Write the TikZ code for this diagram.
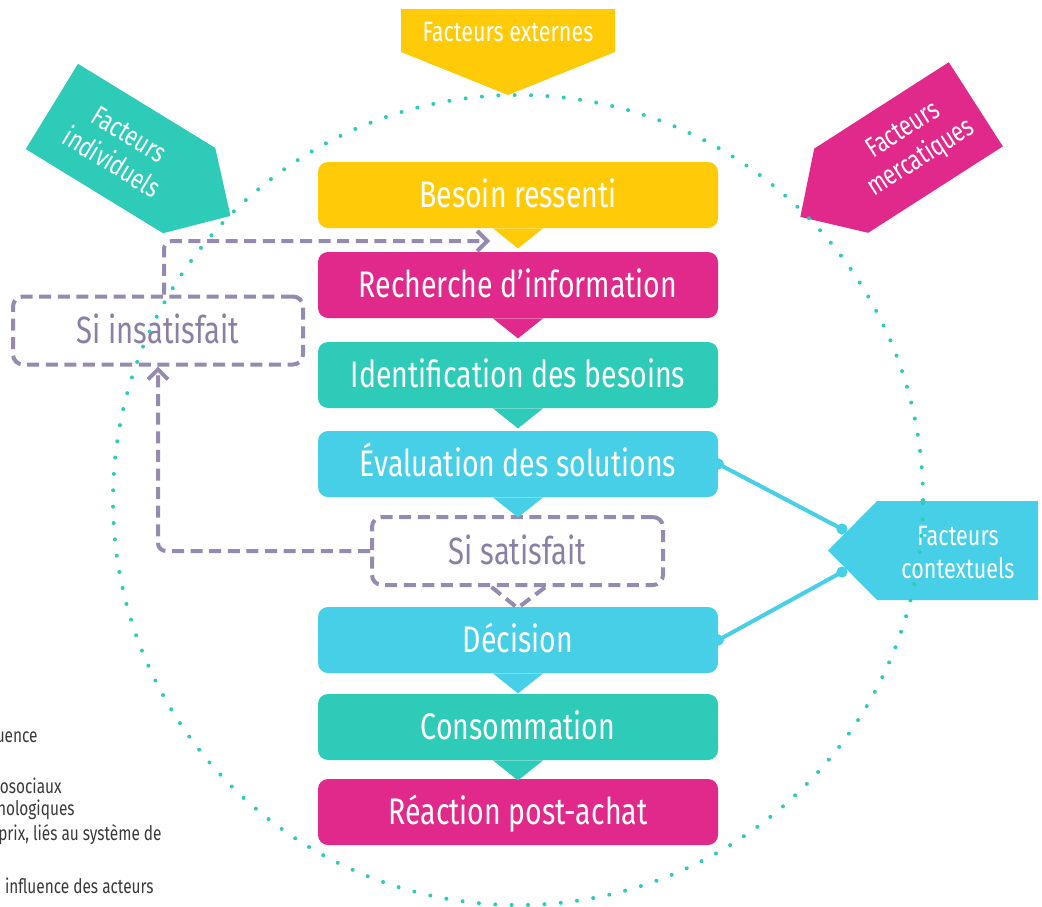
\documentclass[tikz,border=0pt]{standalone}
\usepackage{fontspec}
\setmainfont{Fira Sans}[FakeStretch=0.77]
\usetikzlibrary{arrows.meta}
\definecolor{cyellow}{HTML}{FFCA08}
\definecolor{cmagenta}{HTML}{E0298A}
\definecolor{cteal}{HTML}{2DCBB8}
\definecolor{ccyan}{HTML}{46CFE7}
\definecolor{cpurple}{HTML}{958AB0}
\definecolor{ctext}{HTML}{8A7FA5}
\definecolor{cgray}{HTML}{3A3A3A}

\begin{document}
\begin{tikzpicture}[x=0.5pt, y=-0.5pt]
    \tikzstyle{stepbox} = [rounded corners=5pt, minimum width=200pt, minimum height=33pt, inner sep=0pt, text height=12.7pt, text depth=0pt, text=white, font=\fontsize{18.5}{22}\selectfont]
    \tikzstyle{ifbox} = [draw=cpurple, line width=2pt, dash pattern=on 6pt off 3.3pt, rounded corners=5pt, minimum height=34pt, inner sep=0pt, text height=13.4pt, text depth=0pt, text=ctext, font=\fontsize{19}{22}\selectfont]
    \tikzstyle{loopline} = [draw=cpurple, line width=2pt, dash pattern=on 6pt off 3.3pt, rounded corners=4pt]
    \tikzstyle{factor} = [text=white, align=center, inner sep=0pt, font=\fontsize{14}{16.5}\selectfont]
    \tikzstyle{link} = [draw=ccyan, line width=2pt]
    \tikzstyle{enddot} = [circle, fill=ccyan, minimum size=5.6pt, inner sep=0pt]
    \tikzstyle{note} = [anchor=east, inner sep=0pt, text=cgray, font=\fontsize{10}{12}\selectfont]

    \useasboundingbox (0,0) rectangle (1042,906);

    \begin{scope}[shift={(120.5,148.5)}, rotate=-31.5]
        \fill[cteal] (-80.5,-50) -- (80.5,-50) -- (129,0) -- (80.5,50) -- (-80.5,50) -- cycle;
        \node[factor, rotate=-31.5] (indiv) at (0,0) {Facteurs\\individuels};
    \end{scope}
    \begin{scope}[shift={(908.5,147.5)}, rotate=32.7]
        \fill[cmagenta] (80,-50) -- (-80,-50) -- (-128.5,0) -- (-80,50) -- (80,50) -- cycle;
        \node[factor, rotate=32.7] (merca) at (5,0) {Facteurs\\mercatiques};
    \end{scope}
    \fill[ccyan] (828,550.5) -- (877,501) -- (1038,501) -- (1038,600) -- (877,600) -- cycle;
    \node[factor] (contexte) at (958,553) {Facteurs\\contextuels};
    \fill[cyellow] (401,9) -- (615,9) -- (615,52) -- (508,95) -- (401,52) -- cycle;
    \node[factor] (externes) at (508,32) {Facteurs externes};

    \draw[cteal, line width=2pt, line cap=round, dash pattern=on 0pt off 8.2pt] (518,500) circle [radius=202.5pt];

    \node[stepbox, fill=cyellow] (besoin) at (518,195) {Besoin ressenti};
    \node[stepbox, fill=cmagenta] (recherche) at (518,285) {Recherche d’information};
    \node[stepbox, fill=cteal] (identif) at (518,375) {Identification des besoins};
    \node[stepbox, fill=ccyan] (evaluation) at (518,464) {Évaluation des solutions};
    \node[ifbox, minimum width=145.5pt] (satisf) at (517.5,551) {Si satisfait};
    \node[stepbox, fill=ccyan] (decision) at (518,640) {Décision};
    \node[stepbox, fill=cteal] (conso) at (518,727) {Consommation};
    \node[stepbox, fill=cmagenta] (reaction) at (518,812) {Réaction post-achat};
    \node[ifbox, minimum width=145pt] (insat) at (158,330.5) {Si insatisfait};

    \foreach \n/\c in {besoin/cyellow, recherche/cmagenta, identif/cteal, evaluation/ccyan, decision/ccyan, conso/cteal}
        \fill[\c] ([xshift=-12.5pt]\n.south) -- ([xshift=12.5pt]\n.south) -- ([yshift=-10pt]\n.south) -- cycle;
    \draw[loopline, rounded corners=0pt] ([xshift=-13pt]satisf.south) -- ([yshift=-10.5pt]satisf.south) -- ([xshift=14pt]satisf.south);

    \coordinate (retour) at (490,241);
    \draw[loopline, -{Straight Barb[length=5pt, width=10pt]}] (satisf.west) -| (insat.south);
    \draw[loopline, -{Straight Barb[length=5pt, width=10pt]}] ([xshift=3pt]insat.north) |- (retour);

    \coordinate (ctxa) at (842,529);
    \coordinate (ctxb) at (842,572);
    \draw[link] (evaluation.east) -- (ctxa);
    \draw[link] (decision.east) -- (ctxb);
    \foreach \p/\m in {evaluation.east/dota, ctxa/dotb, decision.east/dotc, ctxb/dotd}
        \node[enddot] (\m) at (\p) {};

    \node[note] (n1) at (38,737) {uence};
    \node[note] (n2) at (62,786) {osociaux};
    \node[note] (n3) at (75,810) {nologiques};
    \node[note] (n4) at (162,835) {prix, liés au système de};
    \node[note] (n5) at (154,886) {influence des acteurs};
\end{tikzpicture}
\end{document}
